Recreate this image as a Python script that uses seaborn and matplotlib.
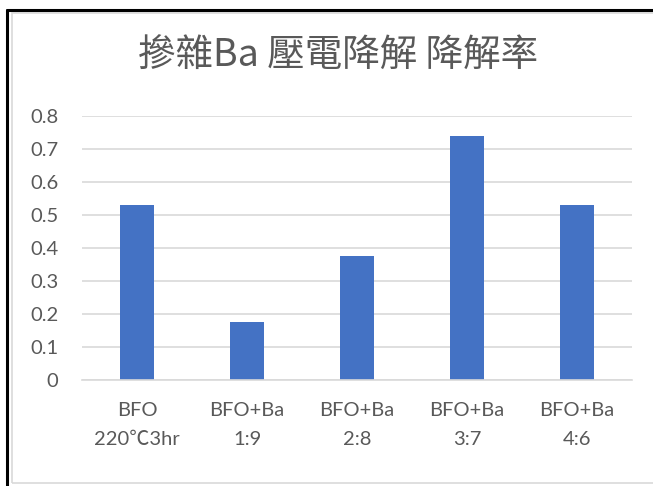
import matplotlib
matplotlib.use("Agg")
import matplotlib.pyplot as plt
from matplotlib.lines import Line2D
from matplotlib.patches import Rectangle
import seaborn as sns
import pandas as pd

# Degradation rate per sample
categories = ["BFO\n220℃3hr", "BFO+Ba\n1:9", "BFO+Ba\n2:8", "BFO+Ba\n3:7", "BFO+Ba\n4:6"]
rates = [0.53, 0.176, 0.376, 0.739, 0.53]
y_ticks = [0, 0.1, 0.2, 0.3, 0.4, 0.5, 0.6, 0.7, 0.8]
y_tick_labels = ["0", "0.1", "0.2", "0.3", "0.4", "0.5", "0.6", "0.7", "0.8"]
title = "摻雜Ba 壓電降解 降解率"

sns.set_theme(style="white")
plt.rcParams["font.family"] = ["Lato", "Noto Sans CJK TC", "DejaVu Sans"]

W, H = 653, 486
fig = plt.figure(figsize=(W / 100, H / 100), dpi=100)
fig.patch.set_facecolor("white")

# chart frame and outer border lines
fig.add_artist(Rectangle((12.5 / W, 1 - 482.5 / H), (W + 5 - 12.5) / W, (482.5 - 13.5) / H,
                         transform=fig.transFigure, fill=False, edgecolor="#D9D9D9", lw=1.2))
fig.add_artist(Line2D([7 / W, 1], [1 - 10 / H, 1 - 10 / H], transform=fig.transFigure,
                      color="black", lw=2.2))
fig.add_artist(Line2D([7 / W, 7 / W], [0, 1 - 10 / H], transform=fig.transFigure,
                      color="black", lw=2.2))

left, right, top, bottom = 82, 632, 116, 380
ax = fig.add_axes([left / W, 1 - bottom / H, (right - left) / W, (bottom - top) / H])

df = pd.DataFrame({"sample": categories, "rate": rates})
sns.barplot(data=df, x="sample", y="rate", color="#4472C4", saturation=1,
            width=0.31, ax=ax, edgecolor="#4472C4", linewidth=0)

ax.set_xlim(-0.5, len(categories) - 0.5)
ax.set_ylim(0, 0.8)
ax.set_yticks(y_ticks)
ax.set_yticklabels(y_tick_labels)
ax.set_xlabel("")
ax.set_ylabel("")
ax.yaxis.grid(True, color="#D9D9D9", lw=1.2)
ax.set_axisbelow(True)
for s in ["top", "right", "left"]:
    ax.spines[s].set_visible(False)
ax.spines["bottom"].set_color("#D9D9D9")
ax.spines["bottom"].set_linewidth(1.2)
ax.tick_params(axis="both", length=0, colors="#595959", labelsize=14.5)
ax.tick_params(axis="y", pad=17)
ax.tick_params(axis="x", pad=16)
for lab in ax.get_xticklabels():
    lab.set_linespacing(1.85)

fig.text(338 / W, 1 - 56 / H, title, ha="center", va="center", fontsize=27,
         color="#595959", family=["Noto Sans CJK TC", "DejaVu Sans"], fontweight="light")

fig.savefig("out.png", dpi=100)
